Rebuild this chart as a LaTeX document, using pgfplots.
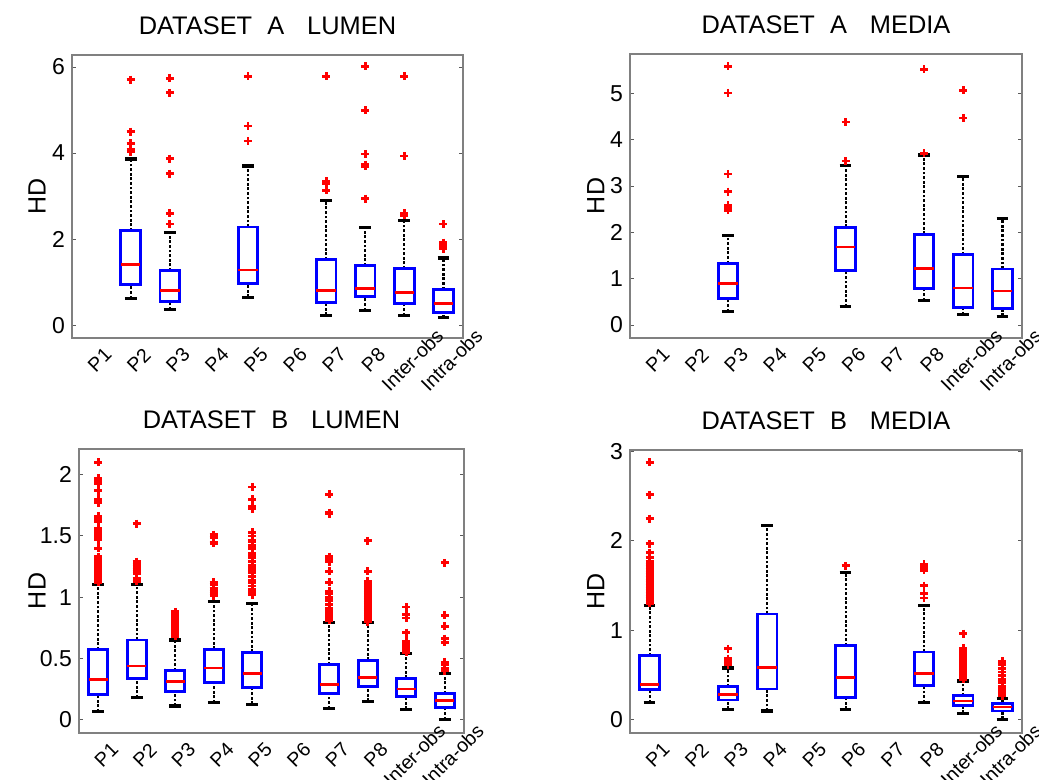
\documentclass[border=0pt]{standalone}
\usepackage{fontspec}
\setmainfont{Liberation Sans}
\usepackage{pgfplots}
\pgfplotsset{compat=1.18}
\usepgfplotslibrary{statistics}
\pgfplotsset{
 hdax/.style={
  scale only axis,
  xmin=0.5, xmax=10.5,
  xtick={1,...,10},
  xticklabels={P1,P2,P3,P4,P5,P6,P7,P8,Inter-obs,Intra-obs},
  major x tick style={draw=none},
  ytick pos=both,
  tick align=inside,
  major tick length=2.2pt,
  every tick/.style={gray!70!black, line width=0.5pt},
  axis line style={gray, line width=0.6pt},
  /pgf/number format/assume math mode=true,
  yticklabel style={font=\fontsize{11.5}{12}\selectfont},
  xticklabel style={font=\fontsize{9.8}{10}\selectfont, xshift=4pt, yshift=-11pt, rotate=45, anchor=center},
  every axis title/.style={at={(0.5,1)}, anchor=base, yshift=10pt, font=\fontsize{12.7}{14}\selectfont},
  ylabel={HD},
  boxplot/draw direction=y,
  boxplot/box extend=0.5,
  boxplot/whisker extend=0.3,
  boxplot/every box/.style={draw=blue, line width=1.4pt},
  boxplot/every median/.style={draw=red, line width=1.3pt},
  boxplot/draw/lower whisker/.code={
    \draw[black, line width=1.1pt, dash pattern=on 1.4pt off 0.9pt]
      (boxplot cs:\pgfplotsboxplotvalue{lower whisker}) -- (boxplot cs:\pgfplotsboxplotvalue{lower quartile});
    \draw[black, line width=1.6pt]
      (boxplot whisker cs:\pgfplotsboxplotvalue{lower whisker},0) -- (boxplot whisker cs:\pgfplotsboxplotvalue{lower whisker},1);
  },
  boxplot/draw/upper whisker/.code={
    \draw[black, line width=1.1pt, dash pattern=on 1.4pt off 0.9pt]
      (boxplot cs:\pgfplotsboxplotvalue{upper quartile}) -- (boxplot cs:\pgfplotsboxplotvalue{upper whisker});
    \draw[black, line width=1.6pt]
      (boxplot whisker cs:\pgfplotsboxplotvalue{upper whisker},0) -- (boxplot whisker cs:\pgfplotsboxplotvalue{upper whisker},1);
  },
 },
 hdy/.style={every axis y label/.style={at={(axis description cs:#1,0.5)}, rotate=90, anchor=center, font=\fontsize{12.5}{14}\selectfont}},
 outl/.style={red, mark=+, mark size=2pt, mark options={red, solid, line width=1.4pt}},
}
% position, lower whisker, lower quartile, median, upper quartile, upper whisker, outliers
\newcommand{\bp}[7]{\addplot[outl, boxplot prepared={draw position=#1, lower whisker=#2, lower quartile=#3, median=#4, upper quartile=#5, upper whisker=#6}] coordinates {#7};}
\begin{document}
\begin{tikzpicture}
\useasboundingbox (0,0) rectangle (519.5pt,390pt);
% ---------------- DATASET A LUMEN
\begin{axis}[hdax, hdy=-0.0895, at={(36pt,221pt)}, anchor=south west,
  width=195.5pt, height=141.5pt, ymin=-0.3, ymax=6.28, ytick={0,2,4,6},
  title={DATASET\hspace{0.6em}A\hspace{0.9em}LUMEN}]
\bp{2}{0.62}{0.95}{1.41}{2.19}{3.86}{(2,5.71) (2,4.50) (2,4.23) (2,4.08) (2,4.03)}
\bp{3}{0.36}{0.54}{0.81}{1.26}{2.15}{(3,5.74) (3,5.40) (3,3.87) (3,3.52) (3,2.60) (3,2.35)}
\bp{5}{0.65}{0.97}{1.28}{2.28}{3.70}{(5,5.78) (5,4.63) (5,4.28)}
\bp{7}{0.23}{0.53}{0.81}{1.52}{2.90}{(7,5.78) (7,3.34) (7,3.28) (7,3.13)}
\bp{8}{0.34}{0.66}{0.85}{1.38}{2.26}{(8,6.02) (8,4.99) (8,3.98) (8,3.73) (8,3.69) (8,2.94)}
\bp{9}{0.22}{0.50}{0.76}{1.31}{2.44}{(9,5.78) (9,3.93) (9,2.60) (9,2.55)}
\bp{10}{0.18}{0.29}{0.50}{0.83}{1.56}{(10,2.35) (10,1.92) (10,1.86) (10,1.81) (10,1.77)}
\end{axis}
% ---------------- DATASET A MEDIA
\begin{axis}[hdax, hdy=-0.087, at={(315pt,221pt)}, anchor=south west,
  width=196pt, height=142pt, ymin=-0.28, ymax=5.85, ytick={0,1,2,3,4,5},
  title={DATASET\hspace{0.6em}A\hspace{0.9em}MEDIA}]
\bp{3}{0.29}{0.58}{0.90}{1.33}{1.93}{(3,5.58) (3,5.01) (3,3.26) (3,2.88) (3,2.59) (3,2.54) (3,2.48)}
\bp{6}{0.40}{1.17}{1.68}{2.11}{3.45}{(6,4.38) (6,3.54)}
\bp{8}{0.53}{0.79}{1.22}{1.96}{3.67}{(8,5.52) (8,3.71)}
\bp{9}{0.22}{0.38}{0.80}{1.52}{3.20}{(9,5.07) (9,4.47)}
\bp{10}{0.19}{0.35}{0.73}{1.21}{2.30}{}
\end{axis}
% ---------------- DATASET B LUMEN
\begin{axis}[hdax, hdy=-0.109, at={(39.5pt,23.5pt)}, anchor=south west,
  width=192.5pt, height=142pt, ymin=-0.11, ymax=2.21, ytick={0,0.5,1,1.5,2},
  title={DATASET\hspace{0.6em}B\hspace{0.9em}LUMEN}]
\bp{1}{0.063}{0.204}{0.327}{0.57}{1.106}{(1,2.10) (1,1.97) (1,1.95) (1,1.93) (1,1.87) (1,1.80) (1,1.79) (1,1.77) (1,1.66) (1,1.64) (1,1.62) (1,1.56) (1,1.54) (1,1.53) (1,1.51) (1,1.49) (1,1.47) (1,1.40) (1,1.33) (1,1.31) (1,1.28) (1,1.26) (1,1.24) (1,1.22) (1,1.20) (1,1.18) (1,1.16) (1,1.14) (1,1.12)}
\bp{2}{0.177}{0.338}{0.436}{0.65}{1.10}{(2,1.60) (2,1.29) (2,1.27) (2,1.25) (2,1.23) (2,1.21) (2,1.19) (2,1.15) (2,1.13)}
\bp{3}{0.11}{0.229}{0.313}{0.40}{0.65}{(3,0.88) (3,0.86) (3,0.84) (3,0.82) (3,0.80) (3,0.78) (3,0.76) (3,0.74) (3,0.72) (3,0.70) (3,0.68)}
\bp{4}{0.136}{0.302}{0.42}{0.575}{0.962}{(4,1.51) (4,1.49) (4,1.45) (4,1.44) (4,1.12) (4,1.10) (4,1.07) (4,1.05) (4,1.03) (4,1.01)}
\bp{5}{0.125}{0.26}{0.376}{0.55}{0.948}{(5,1.90) (5,1.80) (5,1.74) (5,1.72) (5,1.53) (5,1.50) (5,1.46) (5,1.45) (5,1.42) (5,1.40) (5,1.36) (5,1.34) (5,1.32) (5,1.29) (5,1.26) (5,1.24) (5,1.22) (5,1.20) (5,1.17) (5,1.14) (5,1.12) (5,1.09) (5,1.06) (5,1.04) (5,1.02)}
\bp{7}{0.09}{0.215}{0.286}{0.45}{0.793}{(7,1.84) (7,1.69) (7,1.68) (7,1.33) (7,1.31) (7,1.29) (7,1.21) (7,1.12) (7,1.05) (7,1.03) (7,1.00) (7,0.97) (7,0.94) (7,0.91) (7,0.89) (7,0.87) (7,0.85) (7,0.83) (7,0.81)}
\bp{8}{0.15}{0.272}{0.343}{0.485}{0.79}{(8,1.46) (8,1.21) (8,1.13) (8,1.12) (8,1.10) (8,1.08) (8,1.06) (8,1.04) (8,1.02) (8,1.00) (8,0.98) (8,0.96) (8,0.94) (8,0.92) (8,0.90) (8,0.88) (8,0.86) (8,0.84) (8,0.82) (8,0.80)}
\bp{9}{0.084}{0.185}{0.248}{0.338}{0.54}{(9,0.92) (9,0.86) (9,0.83) (9,0.71) (9,0.64) (9,0.62) (9,0.60) (9,0.58) (9,0.56) (9,0.55)}
\bp{10}{0.0}{0.098}{0.155}{0.213}{0.376}{(10,1.28) (10,0.85) (10,0.76) (10,0.66) (10,0.63) (10,0.47) (10,0.45) (10,0.42) (10,0.40)}
\end{axis}
% ---------------- DATASET B MEDIA
\begin{axis}[hdax, hdy=-0.087, at={(315pt,23.5pt)}, anchor=south west,
  width=196pt, height=141.5pt, ymin=-0.154, ymax=3.02, ytick={0,1,2,3},
  title={DATASET\hspace{0.6em}B\hspace{0.9em}MEDIA}]
\bp{1}{0.19}{0.33}{0.393}{0.714}{1.28}{(1,2.88) (1,2.52) (1,2.25) (1,1.97) (1,1.87) (1,1.81) (1,1.77) (1,1.74) (1,1.71) (1,1.68) (1,1.65) (1,1.62) (1,1.59) (1,1.56) (1,1.53) (1,1.50) (1,1.47) (1,1.44) (1,1.41) (1,1.38) (1,1.35) (1,1.32) (1,1.30)}
\bp{3}{0.112}{0.217}{0.28}{0.366}{0.576}{(3,0.79) (3,0.68) (3,0.66) (3,0.63) (3,0.61)}
\bp{4}{0.093}{0.34}{0.583}{1.18}{2.17}{}
\bp{6}{0.112}{0.243}{0.467}{0.826}{1.645}{(6,1.72)}
\bp{8}{0.187}{0.378}{0.516}{0.755}{1.28}{(8,1.74) (8,1.70) (8,1.67) (8,1.50) (8,1.41) (8,1.36)}
\bp{9}{0.067}{0.153}{0.206}{0.265}{0.43}{(9,0.96) (9,0.80) (9,0.77) (9,0.74) (9,0.71) (9,0.68) (9,0.65) (9,0.62) (9,0.59) (9,0.56) (9,0.53) (9,0.50) (9,0.47) (9,0.45)}
\bp{10}{0.0}{0.093}{0.138}{0.18}{0.235}{(10,0.65) (10,0.61) (10,0.57) (10,0.53) (10,0.49) (10,0.45) (10,0.41) (10,0.37) (10,0.34) (10,0.31) (10,0.28) (10,0.26)}
\end{axis}
\end{tikzpicture}
\end{document}
